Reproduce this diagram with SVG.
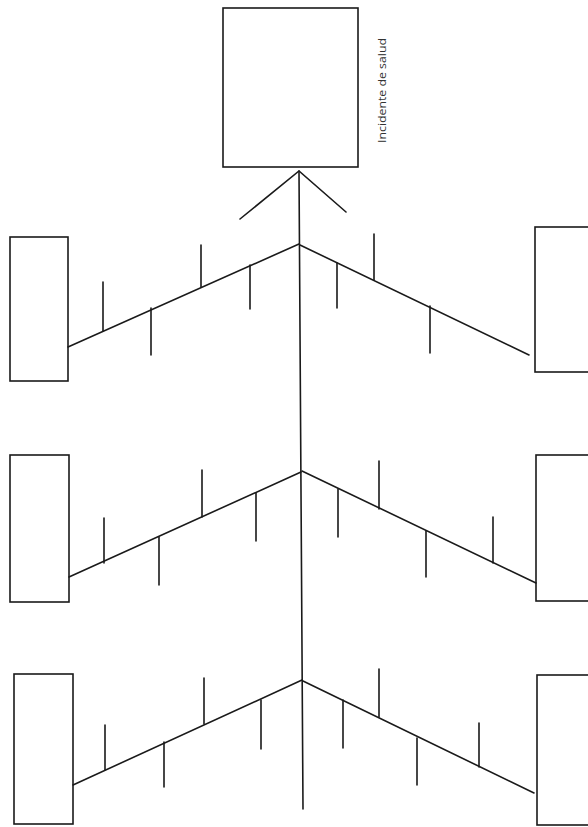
<svg xmlns="http://www.w3.org/2000/svg" width="588" height="827" viewBox="0 0 588 827">
<style>
.box{fill:none;stroke:#1a1a1a;stroke-width:1.6}
.ln{fill:none;stroke:#1a1a1a;stroke-width:1.6;stroke-linecap:round}
.lbl{font-family:"Open Sans","Liberation Sans",sans-serif;font-size:10.5px;fill:#333}
</style>
<rect width="588" height="827" fill="#fff"/>
<g id="head">
<rect class="box" x="223" y="8" width="135" height="159"/>
<text class="lbl" transform="translate(385.5,143) rotate(-90)" textLength="105" lengthAdjust="spacingAndGlyphs">Incidente de salud</text>
</g>
<g id="cause-l1"><rect class="box" x="10" y="237" width="58" height="144"/></g>
<g id="cause-r1"><rect class="box" x="535" y="227" width="70" height="145"/></g>
<g id="cause-l2"><rect class="box" x="10" y="455" width="59" height="147"/></g>
<g id="cause-r2"><rect class="box" x="536" y="455" width="70" height="146"/></g>
<g id="cause-l3"><rect class="box" x="14" y="674" width="59" height="150"/></g>
<g id="cause-r3"><rect class="box" x="537" y="675" width="70" height="150"/></g>
<g id="connectors">
<path class="ln" d="M299,171 L303,809"/>
<path class="ln" d="M240,219 L299,171 L346,212"/>
<!-- row 1 -->
<path class="ln" d="M68,347 L299,244"/>
<path class="ln" d="M103,282 V331 M151,308 V355 M201,245 V287 M250,265 V309"/>
<path class="ln" d="M300,245 L529,355"/>
<path class="ln" d="M337,263 V308 M374,234 V280 M430,306 V353"/>
<!-- row 2 -->
<path class="ln" d="M69,577 L301,472"/>
<path class="ln" d="M104,518 V563 M159,537 V585 M202,470 V517 M256,493 V541"/>
<path class="ln" d="M302,471 L536,583"/>
<path class="ln" d="M338,489 V537 M379,461 V509 M426,531 V577 M493,517 V563"/>
<!-- row 3 -->
<path class="ln" d="M73,785 L302,680"/>
<path class="ln" d="M105,725 V770 M164,742 V787 M204,678 V724 M261,700 V749"/>
<path class="ln" d="M303,681 L534,793"/>
<path class="ln" d="M343,700 V748 M379,669 V717 M417,738 V785 M479,723 V767"/>
</g>
</svg>
